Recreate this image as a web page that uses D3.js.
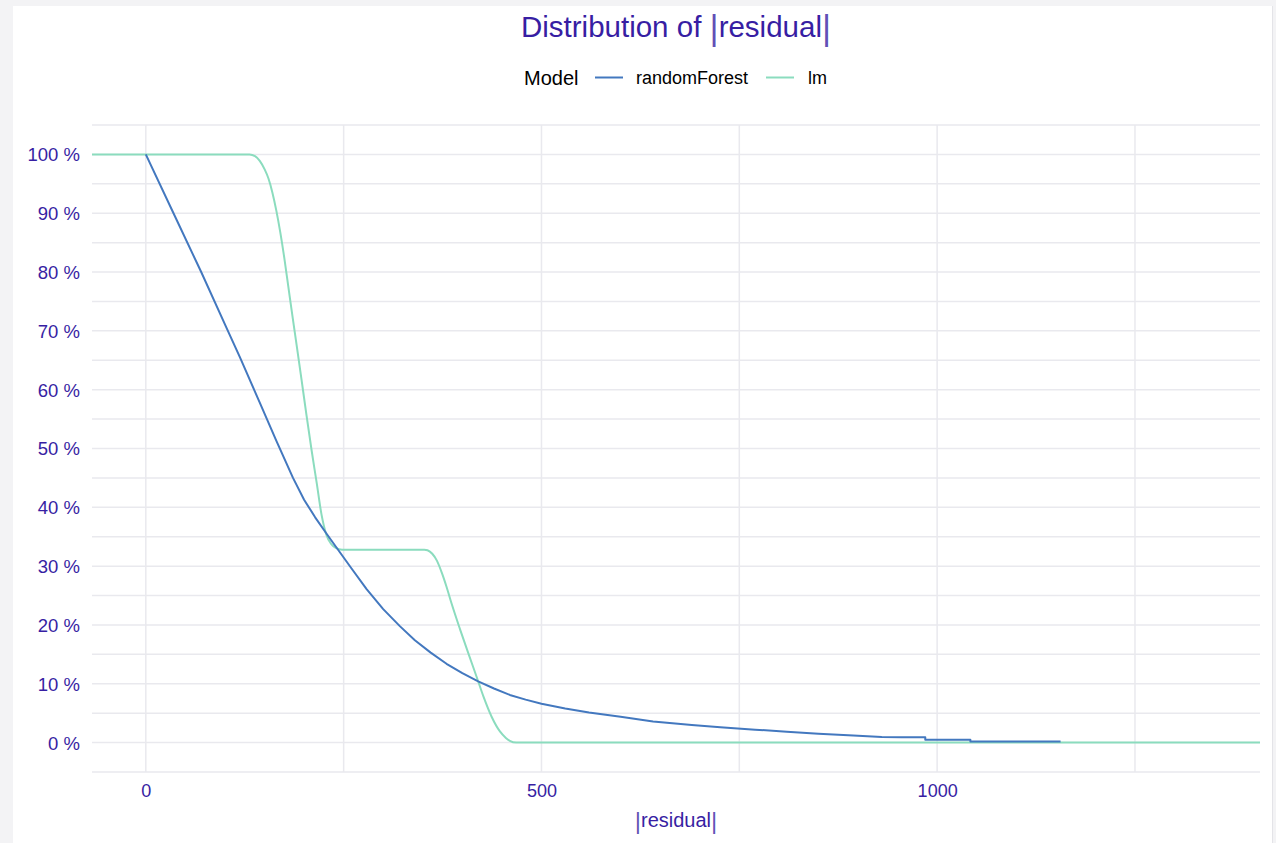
<!DOCTYPE html>
<html>
<head>
<meta charset="utf-8">
<script src="https://cdn.jsdelivr.net/npm/d3@7"></script>
<style>
  html, body { margin: 0; padding: 0; background: #f3f3f5; }
  svg { display: block; }
</style>
</head>
<body>
<svg id="chart" width="1276" height="843"></svg>
<script>
// ---- data ----
const seriesNames = ["randomForest", "lm"];
const seriesColors = ["#4378bf", "#8bdcbe"];

// |residual| value, share of observations with larger |residual| (%)
const rfResidual = [0, 35, 70, 102, 119, 144, 165, 186, 200, 214, 228, 245, 260, 279, 300, 321, 340, 360, 380, 400, 420, 440, 460, 480, 500, 530, 560, 600, 641, 690, 726, 770, 810, 850, 894, 930, 955, 985, 985, 1042, 1042, 1156];
const rfShare    = [100, 90, 80, 70.5, 65.5, 57.8, 51.3, 45, 41.3, 38.3, 35.6, 32.4, 29.6, 26.1, 22.7, 19.8, 17.4, 15.3, 13.4, 11.8, 10.4, 9.2, 8.1, 7.3, 6.6, 5.8, 5.1, 4.4, 3.6, 3.0, 2.6, 2.2, 1.85, 1.5, 1.2, 0.95, 0.9, 0.9, 0.5, 0.5, 0.2, 0.2];

const lmResidual = [-68, 131, 138, 144, 150, 155, 160, 165, 170, 175, 180, 185, 191, 197, 203, 209.5, 216, 222, 228, 234, 240, 248, 352, 356, 362, 368, 374, 380, 386.5, 397, 407.5, 418, 426.5, 437, 447.5, 455, 460, 468, 1408];
const lmShare    = [100, 100, 99.7, 98.9, 97.5, 95.9, 93.5, 90.4, 86.7, 82.4, 77.6, 72.8, 67.2, 61.5, 55.7, 49.7, 44.1, 38.8, 35.4, 33.8, 33.1, 32.8, 32.8, 32.7, 32.1, 30.9, 28.9, 26.5, 23.6, 19.3, 15.2, 11.2, 7.9, 4.4, 1.9, 0.8, 0.3, 0, 0];

const xTicks = [0, 500, 1000];
const xMinorTicks = [250, 750, 1250];
const yTicks = [0, 10, 20, 30, 40, 50, 60, 70, 80, 90, 100];
const yMinorTicks = [-5, 5, 15, 25, 35, 45, 55, 65, 75, 85, 95, 105];

const titleText = ["Distribution of ", "|", "residual", "|"];
const xTitleText = ["|", "residual", "|"];
const legendTitle = "Model";

// ---- layout ----
const svg = d3.select("#chart");
const W = 1276, H = 843;
const panel = { left: 92, right: 1260, top: 125, bottom: 772 };
const textColor = "#371ea3";
const gridColor = "#e9e9ee";
const font = "'Liberation Sans', Arial, sans-serif";

svg.append("rect").attr("x", 13).attr("y", 6).attr("width", 1259).attr("height", H - 6).attr("fill", "#ffffff");
svg.append("line").attr("x1", 1272.5).attr("x2", 1272.5).attr("y1", 6).attr("y2", H).attr("stroke", "#e4e4e8").attr("stroke-width", 1);

const x = d3.scaleLinear().domain([-68, 1408]).range([panel.left, panel.right]);
const y = d3.scaleLinear().domain([-5, 105]).range([panel.bottom, panel.top]);

// grid
const grid = svg.append("g");
grid.selectAll(".hy").data(yTicks.concat(yMinorTicks)).join("line")
  .attr("x1", panel.left).attr("x2", panel.right)
  .attr("y1", d => y(d)).attr("y2", d => y(d))
  .attr("stroke", gridColor).attr("stroke-width", 1.5);
grid.selectAll(".vx").data(xTicks.concat(xMinorTicks)).join("line")
  .attr("y1", panel.top).attr("y2", panel.bottom)
  .attr("x1", d => x(d)).attr("x2", d => x(d))
  .attr("stroke", gridColor).attr("stroke-width", 1.5);

// axes (labels only)
const yAxis = d3.axisLeft(y).tickValues(yTicks).tickFormat(d => d + " %").tickSize(0).tickPadding(12);
const gy = svg.append("g").attr("transform", `translate(${panel.left},0)`).call(yAxis);
gy.select(".domain").remove();
gy.selectAll("text").attr("fill", textColor).attr("font-size", 18.5).attr("font-family", font).attr("dy", "0.35em");

const xAxis = d3.axisBottom(x).tickValues(xTicks).tickFormat(d3.format("d")).tickSize(0).tickPadding(12);
const gx = svg.append("g").attr("transform", `translate(0,${panel.bottom})`).call(xAxis);
gx.select(".domain").remove();
gx.selectAll("text").attr("fill", textColor).attr("font-size", 18).attr("font-family", font);

// lines
const rfData = rfResidual.map((v, i) => ({ x: v, y: rfShare[i] }));
const lmData = lmResidual.map((v, i) => ({ x: v, y: lmShare[i] }));

const lineLin = d3.line().x(d => x(d.x)).y(d => y(d.y)).curve(d3.curveLinear);
const lineSmooth = d3.line().x(d => x(d.x)).y(d => y(d.y)).curve(d3.curveMonotoneX);

svg.append("path").datum(lmData).attr("d", lineSmooth)
  .attr("fill", "none").attr("stroke", seriesColors[1]).attr("stroke-width", 2);
svg.append("path").datum(rfData).attr("d", lineLin)
  .attr("fill", "none").attr("stroke", seriesColors[0]).attr("stroke-width", 2)
  .attr("stroke-linejoin", "round");

// title
const title = svg.append("text").attr("x", (panel.left + panel.right) / 2).attr("y", 37)
  .attr("text-anchor", "middle").attr("fill", textColor).attr("font-family", font).attr("font-size", 29.5);
title.selectAll("tspan").data(titleText).join("tspan")
  .text(d => d)
  .attr("font-size", d => d === "|" ? 35 : 29.5)
  .attr("font-weight", d => d === "|" ? 300 : 400)
  .attr("fill-opacity", d => d === "|" ? 0.8 : 1)
  .attr("dy", (d, i) => d === "|" ? "0.08em" : (i > 0 ? "-0.1em" : 0));

// legend
const leg = svg.append("g").attr("font-family", font);
leg.append("text").attr("x", 524).attr("y", 85).attr("font-size", 20).attr("fill", "#000").text(legendTitle);
const legItems = [
  { name: seriesNames[0], color: seriesColors[0], lx: 595, tx: 636 },
  { name: seriesNames[1], color: seriesColors[1], lx: 766, tx: 808 }
];
legItems.forEach(it => {
  leg.append("line").attr("x1", it.lx).attr("x2", it.lx + 28).attr("y1", 77.5).attr("y2", 77.5)
    .attr("stroke", it.color).attr("stroke-width", 2);
  leg.append("text").attr("x", it.tx).attr("y", 84).attr("font-size", 18).attr("fill", "#000").text(it.name);
});

// x axis title
const xt = svg.append("text").attr("x", (panel.left + panel.right) / 2).attr("y", 828)
  .attr("text-anchor", "middle").attr("fill", textColor).attr("font-family", font).attr("font-size", 20);
xt.selectAll("tspan").data(xTitleText).join("tspan")
  .text(d => d)
  .attr("font-size", d => d === "|" ? 24 : 20)
  .attr("fill-opacity", d => d === "|" ? 0.8 : 1)
  .attr("dy", (d, i) => d === "|" ? (i > 0 ? "0.1em" : "0.04em") : "-0.1em");
</script>
</body>
</html>
